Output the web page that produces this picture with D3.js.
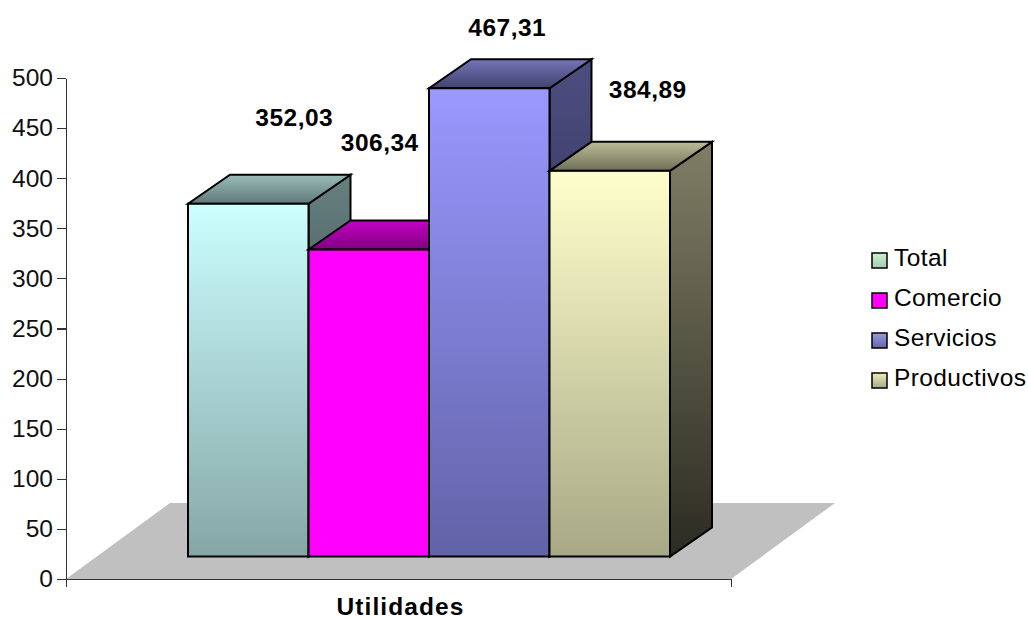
<!DOCTYPE html>
<html>
<head>
<meta charset="utf-8">
<script src="https://d3js.org/d3.v7.min.js"></script>
<style>
  body { margin: 0; background: #fff; }
  text { font-family: "Liberation Sans", Arial, sans-serif; fill: #000; }
  .axis path, .axis line { stroke: #333; stroke-width: 1.2; shape-rendering: crispEdges; }
  .axis text { font-size: 24.5px; font-family: "Liberation Sans", Arial, sans-serif; fill: #111; }
  .box { stroke: #000; stroke-width: 2; stroke-linejoin: miter; }
</style>
</head>
<body>
<script>
//chart values
var series = ["Total", "Comercio", "Servicios", "Productivos"];
var values = [352.03, 306.34, 467.31, 384.89];
var valueLabels = ["352,03", "306,34", "467,31", "384,89"];
var yTicks = [0, 50, 100, 150, 200, 250, 300, 350, 400, 450, 500];
var category = "Utilidades";

//gradient colours per series: front top/bottom, side top/bottom, roof back/front
var frontTop = ["#ccffff", "#ff00ff", "#9999ff", "#ffffcc"];
var frontBottom = ["#86a6a6", "#ff00ff", "#6262a8", "#a8a886"];
var sideTop = ["#667f7f", "#800080", "#4d4d80", "#7f7f66"];
var sideBottom = ["#2a3535", "#400040", "#202040", "#2b2b22"];
var roofBack = ["#9abcb9", "#c400c4", "#7474b8", "#bcbc98"];
var roofFront = ["#5f7a78", "#800080", "#42426f", "#6f6f58"];
var legendTop = ["#ccf0d0", "#ff00ff", "#9999dd", "#eeeebb"];
var legendBottom = ["#a4ccb0", "#ff00ff", "#6666aa", "#a8a886"];

//label offsets from the front top centre of each bar
var labelDx = [46, 11, 18, 38];
var labelDy = [-78, -99, -52, -73];

var width = 1028, height = 617;
var margin = { left: 66, right: 731, top: 78, bottom: 579 };

//depth of the floor and of the bars in the oblique projection
var floorDx = 104, floorDy = 76;
var barDx = 42, barDy = 29;
var barBase = 22.5; //front of the bars sits above the front of the floor

var y = d3.scaleLinear().domain([0, 500]).range([margin.bottom, margin.top]);
var xAxisScale = d3.scaleLinear().domain([0, 1]).range([margin.left, margin.right]);
var x = d3.scaleBand().domain(series).range([188, 670]).padding(0);

var svg = d3.select("body").append("svg")
  .attr("width", width)
  .attr("height", height)
  .style("display", "block");

var defs = svg.append("defs");

//adds a vertical gradient, returns the url to use as fill
function gradient(id, top, bottom) {
  var g = defs.append("linearGradient")
    .attr("id", id)
    .attr("x1", 0).attr("y1", 0).attr("x2", 0).attr("y2", 1);
  g.append("stop").attr("offset", "0%").attr("stop-color", top);
  g.append("stop").attr("offset", "100%").attr("stop-color", bottom);
  return "url(#" + id + ")";
}

//floor
var x0 = xAxisScale(0), x1 = xAxisScale(1), y0 = y(0);
svg.append("path")
  .attr("d", d3.line()([[x0, y0], [x1, y0], [x1 + floorDx, y0 - floorDy], [x0 + floorDx, y0 - floorDy]]) + "Z")
  .attr("fill", "#c0c0c0");

//bars, left to right so each one covers the side of the one before
series.forEach(function(name, i) {
  var left = x(name), right = left + x.bandwidth();
  var top = y(values[i]) - barBase, bottom = y(0) - barBase;
  var g = svg.append("g").attr("class", "bar");

  g.append("path").attr("class", "box")
    .attr("d", d3.line()([[right, top], [right + barDx, top - barDy], [right + barDx, bottom - barDy], [right, bottom]]) + "Z")
    .attr("fill", gradient("side" + i, sideTop[i], sideBottom[i]));

  g.append("path").attr("class", "box")
    .attr("d", d3.line()([[left, top], [left + barDx, top - barDy], [right + barDx, top - barDy], [right, top]]) + "Z")
    .attr("fill", gradient("roof" + i, roofBack[i], roofFront[i]));

  g.append("rect").attr("class", "box")
    .attr("x", left)
    .attr("y", top)
    .attr("width", x.bandwidth())
    .attr("height", bottom - top)
    .attr("fill", gradient("front" + i, frontTop[i], frontBottom[i]));
});

//value labels
svg.selectAll(".value")
  .data(series)
  .enter().append("text")
  .attr("class", "value")
  .attr("text-anchor", "middle")
  .attr("x", function(d, i) { return x(d) + x.bandwidth() / 2 + labelDx[i]; })
  .attr("y", function(d, i) { return y(values[i]) - barBase + labelDy[i]; })
  .style("font-size", "24.5px")
  .style("font-weight", "bold")
  .style("letter-spacing", "0.5px")
  .text(function(d, i) { return valueLabels[i]; });

//axes
var yAxis = d3.axisLeft(y).tickValues(yTicks).tickSize(9).tickPadding(4).tickSizeOuter(0);
svg.append("g").attr("class", "y axis")
  .attr("transform", "translate(" + margin.left + ",0)")
  .call(yAxis);

var xAxis = d3.axisBottom(xAxisScale).tickValues([0, 1]).tickSize(8).tickSizeOuter(0).tickFormat("");
svg.append("g").attr("class", "x axis")
  .attr("transform", "translate(0," + margin.bottom + ")")
  .call(xAxis);

//x axis title
svg.append("text")
  .attr("text-anchor", "middle")
  .attr("x", (margin.left + margin.right) / 2 + 2)
  .attr("y", 615)
  .style("font-size", "24.5px")
  .style("font-weight", "bold")
  .style("letter-spacing", "1.1px")
  .text(category);

//legend
var legend = svg.selectAll(".legend")
  .data(series)
  .enter().append("g")
  .attr("class", "legend")
  .attr("transform", function(d, i) { return "translate(872," + (253 + i * 40) + ")"; });

legend.append("rect")
  .attr("width", 15)
  .attr("height", 15)
  .attr("stroke", "#000")
  .attr("stroke-width", 1.5)
  .attr("fill", function(d, i) { return gradient("legend" + i, legendTop[i], legendBottom[i]); });

legend.append("text")
  .attr("x", 22)
  .attr("y", 13)
  .style("font-size", "24.5px")
  .style("letter-spacing", "0.4px")
  .text(function(d) { return d; });
</script>
</body>
</html>
